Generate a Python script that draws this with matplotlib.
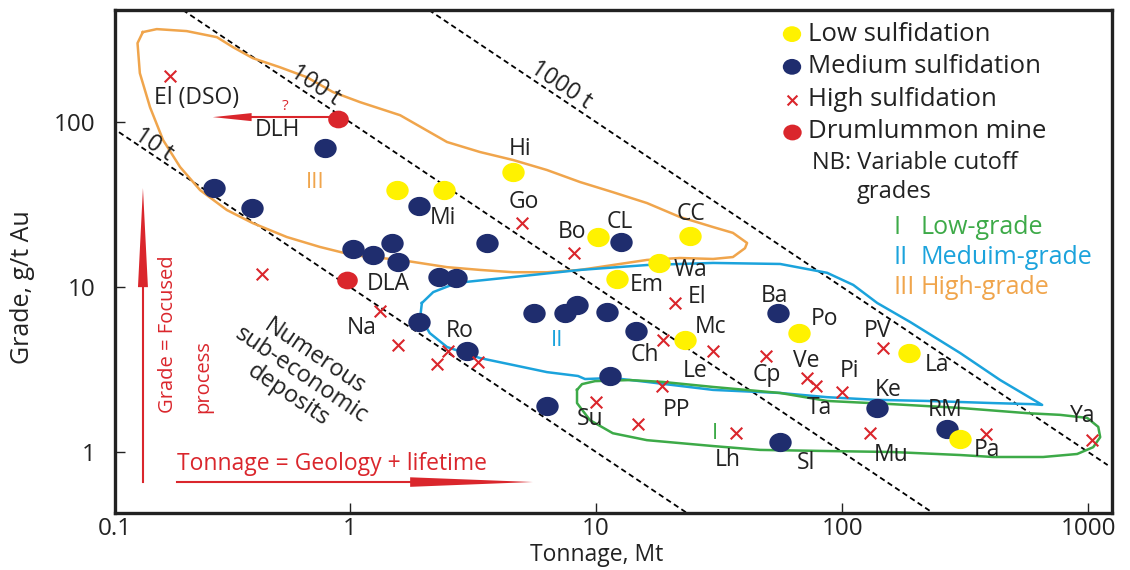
import matplotlib.pyplot as plt
import numpy as np
from matplotlib.path import Path
from matplotlib.patches import Polygon

plt.rcParams['font.family'] = ['Open Sans', 'DejaVu Sans']

# deposits: tonnage (Mt) and grade (g/t Au)
low_t = [4.6, 1.55, 2.4, 10.2, 24, 18, 12.2, 23, 67, 187, 300]
low_g = [50, 39, 39, 20, 20.5, 14, 11.2, 4.8, 5.3, 4.0, 1.2]

med_t = [0.79, 0.28, 0.40, 1.9, 3.6, 12.6, 1.03, 1.24, 1.48, 1.57, 2.3, 2.7, 1.9,
         3.0, 5.6, 7.5, 8.4, 11.1, 14.5, 11.4, 6.3, 55, 139, 267, 56]
med_g = [70, 40, 30, 31, 18.5, 18.7, 17, 15.6, 18.5, 14.2, 11.5, 11.3, 6.1,
         4.1, 7.0, 7.0, 7.8, 7.1, 5.4, 2.9, 1.9, 7.0, 1.85, 1.38, 1.15]

high_t = [0.185, 5.0, 8.1, 0.44, 1.32, 1.57, 2.5, 2.26, 3.3, 21, 18.7, 30, 49,
          18.5, 10, 14.8, 37, 72, 78, 100, 147, 130, 385, 1040]
high_g = [190, 24.4, 16, 12, 7.2, 4.45, 4.1, 3.4, 3.5, 8.0, 4.8, 4.1, 3.8,
          2.5, 2.0, 1.48, 1.3, 2.8, 2.5, 2.3, 4.3, 1.3, 1.29, 1.18]

drum_t = [0.89, 0.97]
drum_g = [104, 11]

# contained gold lines (tonnes Au)
metal_t = [10, 100, 1000]
metal_lab = ['10 t', '100 t', '1000 t']

# grade envelopes
env3_t = [0.144, 0.164, 0.217, 0.288, 0.334, 0.403, 0.519, 0.668, 0.853, 1.10, 1.60,
          2.48, 3.38, 4.60, 6.32, 8.61, 11.7, 16.1, 21.9, 29.9, 36.0, 41.1, 40.3, 36.0,
          29.9, 21.9, 16.1, 11.7, 8.61, 6.32, 4.60, 3.38, 2.48, 1.60, 1.03, 0.755,
          0.554, 0.403, 0.316, 0.246, 0.204, 0.174, 0.154, 0.140, 0.137]
env3_g = [351, 366, 356, 327, 285, 244, 215, 187, 152, 132, 110,
          75.7, 65.8, 58.9, 51.2, 43.3, 37.6, 32.3, 26.6, 23.1, 21.3, 18.5, 17.2, 15.2,
          14.8, 15.0, 14.6, 13.6, 12.7, 12.3, 12.3, 12.7, 13.2, 14.6, 15.6, 17.5,
          20.1, 24.4, 29.3, 38.7, 53.4, 77.8, 123, 198, 301]

env2_t = [1.96, 2.18, 2.72, 4.60, 8.61, 16.1, 29.9, 56.0, 86.9, 111, 139, 189, 302,
          439, 650, 597, 411, 222, 139, 86.9, 56.0, 29.9, 16.1, 11.7, 9.02, 8.45,
          6.32, 4.60, 3.38, 2.48, 2.11, 1.93]
env2_g = [8.0, 9.32, 10.6, 11.5, 12.7, 13.6, 14.0, 13.8, 12.2, 10.3, 8.0, 6.14, 3.98,
          2.73, 1.93, 1.95, 1.98, 2.04, 2.07, 2.15, 2.28, 2.38, 2.66, 2.81, 2.77, 2.89,
          3.05, 3.37, 3.71, 4.33, 5.26, 6.58]

env1_t = [8.37, 8.77, 9.91, 13.7, 18.7, 29.9, 56.0, 86.9, 161, 302, 565, 769, 991,
          1099, 1119, 1048, 902, 656, 411, 302, 161, 86.9, 46.4, 29.9, 16.1, 11.7,
          9.45, 8.37]
env1_g = [2.38, 2.58, 2.69, 2.73, 2.66, 2.48, 2.28, 2.04, 1.95, 1.85, 1.72, 1.68, 1.61,
          1.42, 1.23, 1.07, 0.973, 0.933, 0.933, 0.959, 1.0, 1.014, 1.03, 1.087, 1.18,
          1.30, 1.56, 1.98]

# deposit labels
names = ['El (DSO)', 'DLH', 'Mi', 'Hi', 'Go', 'Bo', 'CL', 'CC', 'Wa', 'Em', 'El', 'Ba',
         'Mc', 'Ch', 'Le', 'Cp', 'Po', 'PV', 'La', 'Ve', 'Pi', 'Ke', 'Ta', 'RM', 'Ya',
         'Mu', 'Pa', 'Sl', 'Lh', 'PP', 'Su', 'Ro', 'Na', 'DLA']
name_t = [0.237, 0.505, 2.39, 4.91, 5.10, 7.99, 12.5, 24.3, 24.1, 16.0, 25.7, 52.9,
          29.1, 15.8, 25.3, 49.6, 84.5, 139, 243, 71.4, 107, 154, 80.6, 262, 946,
          158, 388, 71.4, 34.4, 21.3, 9.45, 2.80, 1.12, 1.43]
name_g = [140, 89.5, 26.2, 68.6, 32.7, 21.5, 24.8, 27.7, 12.7, 10.3, 8.70, 8.82,
          5.72, 3.87, 3.10, 2.93, 6.40, 5.41, 3.37, 3.56, 3.10, 2.38, 1.85, 1.80, 1.65,
          0.959, 1.03, 0.858, 0.894, 1.80, 1.58, 5.41, 5.64, 10.4]

legend_labels = ['Low sulfidation', 'Medium sulfidation', 'High sulfidation',
                 'Drumlummon mine']
grade_classes = [('I', 'Low-grade'), ('II', 'Meduim-grade'), ('III', 'High-grade')]

yellow = '#FFF200'
navy = '#1F2D6E'
red = '#DA262C'
orange = '#F0A54C'
cyan = '#1BA3DC'
green = '#3DAA48'
ink = '#222222'

fig = plt.figure(figsize=(11.3, 5.7), dpi=100)
ax = fig.add_axes([0.1018, 0.1, 0.8823, 0.8825])
ax.set_xscale('log')
ax.set_yscale('log')
ax.set_xlim(0.111, 1250)
ax.set_ylim(0.427, 478)

# dashed lines of equal contained gold
for m in metal_t:
    tt = np.array([m / 478.0, min(m / 0.427, 1200)])
    ax.plot(tt, m / tt, color='black', lw=1.3, ls=(0, (3, 2)), zorder=1)
for lab, t, g in zip(metal_lab, [0.16, 0.72, 7.2], [73, 168, 168]):
    ax.text(t, g, lab, rotation=-33.8, fontsize=17, ha='center', va='center', color=ink)

# envelopes
ax.plot(env3_t + env3_t[:1], env3_g + env3_g[:1], color=orange, lw=1.8, zorder=2)
ax.plot(env2_t + env2_t[:1], env2_g + env2_g[:1], color=cyan, lw=1.8, zorder=2)
ax.plot(env1_t + env1_t[:1], env1_g + env1_g[:1], color=green, lw=1.8, zorder=2)

# slightly wide dots, as in the original figure
circ = Path.unit_circle()
ell = Path(circ.vertices * [1.0, 0.86], circ.codes)

ax.scatter(med_t, med_g, s=260, marker=ell, color=navy, lw=0, zorder=3)
ax.scatter(low_t, low_g, s=260, marker=ell, color=yellow, lw=0, zorder=4)
ax.scatter(high_t, high_g, s=70, marker='x', color=red, lw=1.5, zorder=5)
ax.scatter(drum_t, drum_g, s=220, marker=ell, color=red, lw=0, zorder=5)

for n, t, g in zip(names, name_t, name_g):
    ax.text(t, g, n, fontsize=16.5, ha='center', va='center', color=ink, zorder=6)

ax.text(0.721, 43.3, 'III', fontsize=16, color=orange, ha='center', va='center')
ax.text(6.94, 4.77, 'II', fontsize=16, color=cyan, ha='center', va='center')
ax.text(30.5, 1.30, 'I', fontsize=16, color=green, ha='center', va='center')
ax.text(0.544, 125, '?', fontsize=11, color=red, ha='center', va='center')

# arrows
tr = ax.transAxes
ax.plot([0.216, 0.137], [0.787, 0.787], color=red, lw=1.5, transform=tr)
ax.add_patch(Polygon([[0.137, 0.779], [0.137, 0.795], [0.098, 0.787]],
                     color=red, transform=tr, lw=0))
ax.plot([0.028, 0.028], [0.062, 0.449], color=red, lw=1.5, transform=tr)
ax.add_patch(Polygon([[0.023, 0.449], [0.033, 0.449], [0.028, 0.646]],
                     color=red, transform=tr, lw=0))
ax.plot([0.062, 0.296], [0.0616, 0.0616], color=red, lw=1.5, transform=tr)
ax.add_patch(Polygon([[0.296, 0.052], [0.296, 0.071], [0.419, 0.0616]],
                     color=red, transform=tr, lw=0))

ax.text(0.062, 0.097, 'Tonnage = Geology + lifetime', transform=tr, fontsize=16.5,
        color=red, ha='left', va='center')
ax.text(0.053, 0.199, 'Grade = Focused', transform=tr, fontsize=14.5, color=red,
        rotation=90, rotation_mode='anchor', ha='left', va='center')
ax.text(0.088, 0.199, 'process', transform=tr, fontsize=14.5, color=red,
        rotation=90, rotation_mode='anchor', ha='left', va='center')
ax.text(0.187, 0.273, 'Numerous\nsub-economic\ndeposits', transform=tr, fontsize=17,
        rotation=-34, ha='center', va='center', linespacing=0.95, color=ink)

# legend (drawn by hand to follow the original layout)
leg_y = [0.952, 0.887, 0.822, 0.758]
ax.scatter([0.679] * 2, leg_y[:2], s=175, marker=ell, color=[yellow, navy],
           lw=0, transform=tr, clip_on=False)
ax.scatter([0.679], leg_y[2], s=50, marker='x', color=red, lw=1.5,
           transform=tr, clip_on=False)
ax.scatter([0.679], leg_y[3], s=175, marker=ell, color=red, lw=0,
           transform=tr, clip_on=False)
for lab, y in zip(legend_labels, leg_y):
    ax.text(0.695, y, lab, transform=tr, fontsize=18.5, ha='left', va='center', color=ink)
ax.text(0.699, 0.696, 'NB: Variable cutoff', transform=tr, fontsize=17,
        ha='left', va='center', color=ink)
ax.text(0.744, 0.638, 'grades', transform=tr, fontsize=17,
        ha='left', va='center', color=ink)
for (num, lab), c, y in zip(grade_classes, [green, cyan, orange], [0.567, 0.507, 0.449]):
    ax.text(0.781, y, num, transform=tr, fontsize=18, color=c, ha='left', va='center')
    ax.text(0.808, y, lab, transform=tr, fontsize=18, color=c, ha='left', va='center')

# axes styling
ax.set_xticks([0.111, 1, 10, 100, 1000])
ax.set_xticklabels(['0.1', '1', '10', '100', '1000'])
ax.set_yticks([1, 10, 100])
ax.set_yticklabels(['1', '10', '100'])
ax.minorticks_off()
ax.tick_params(direction='in', length=7, width=1, labelsize=17.5, colors=ink)
ax.tick_params(axis='x', pad=3)
ax.tick_params(axis='y', pad=14)
for s in ax.spines.values():
    s.set_linewidth(2.4)
    s.set_color(ink)
ax.set_xlabel('Tonnage, Mt', fontsize=16.5, color=ink, va='baseline')
ax.set_ylabel('Grade, g/t Au', fontsize=18, color=ink, va='center')
ax.xaxis.set_label_coords(0.483, -0.0954)
ax.yaxis.set_label_coords(-0.093, 0.449)

fig.savefig('out.png', dpi=100)
